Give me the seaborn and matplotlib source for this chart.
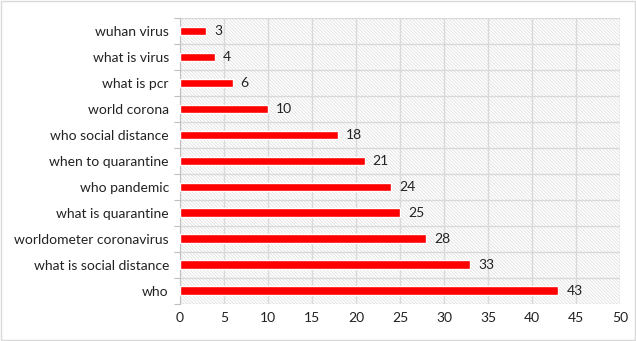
import matplotlib
matplotlib.use("Agg")
import matplotlib.pyplot as plt
import seaborn as sns
import pandas as pd
from matplotlib.patches import Rectangle

queries = ["wuhan virus", "what is virus", "what is pcr", "world corona",
           "who social distance", "when to quarantine", "who pandemic",
           "what is quarantine", "worldometer coronavirus",
           "what is social distance", "who"]
counts = [3, 4, 6, 10, 18, 21, 24, 25, 28, 33, 43]
xticks = [0, 5, 10, 15, 20, 25, 30, 35, 40, 45, 50]

sns.set_theme(style="white")
plt.rcParams['font.family'] = ['Lato', 'DejaVu Sans']
plt.rcParams['hatch.color'] = '#dcdcdc'
plt.rcParams['hatch.linewidth'] = 0.5

df = pd.DataFrame({"query": queries, "count": counts})

fig = plt.figure(figsize=(6.36, 3.41), dpi=100)
ax = fig.add_axes([0.283, 0.109, 0.692, 0.838])

bg = Rectangle((0, 0), 1, 1, transform=ax.transAxes, facecolor='white',
               edgecolor='#dcdcdc', hatch='\\' * 10, linewidth=0, zorder=0)
ax.add_patch(bg)

sns.barplot(data=df, x="count", y="query", orient="h", color="#ff0000",
            width=0.34, saturation=1, ax=ax, zorder=3)

for i, v in enumerate(counts):
    ax.text(v + 0.9, i, str(v), va='center', ha='left', fontsize=10, color='#222222', zorder=4)

ax.set_xlim(0, 50)
ax.set_ylim(len(queries) - 0.5, -0.5)
ax.set_xticks(xticks)
ax.set_xticklabels([str(t) for t in xticks], fontsize=10, color='#222222')
ax.set_yticks(range(len(queries)))
ax.set_yticklabels(queries, fontsize=10, color='#222222')
ax.set_yticks([i - 0.5 for i in range(len(queries) + 1)], minor=True)
ax.tick_params(axis='y', which='major', length=0, pad=8)
ax.tick_params(axis='y', which='minor', length=4, color='#bfbfbf', width=0.8, left=True)
ax.tick_params(axis='x', length=0, pad=6)
ax.set_xlabel("")
ax.set_ylabel("")

ax.grid(axis='x', which='major', color='#d9d9d9', linewidth=1, zorder=1)
ax.grid(axis='y', which='minor', color='#d9d9d9', linewidth=1, zorder=1)
ax.set_axisbelow(True)
for s in ['top', 'right', 'bottom']:
    ax.spines[s].set_visible(False)
ax.spines['left'].set_color('#bfbfbf')
ax.spines['left'].set_linewidth(0.8)

fig.patches.append(Rectangle((0.002, 0.003), 0.996, 0.994, transform=fig.transFigure,
                             fill=False, edgecolor='#d9d9d9', linewidth=1))

fig.savefig("out.png", dpi=100)
